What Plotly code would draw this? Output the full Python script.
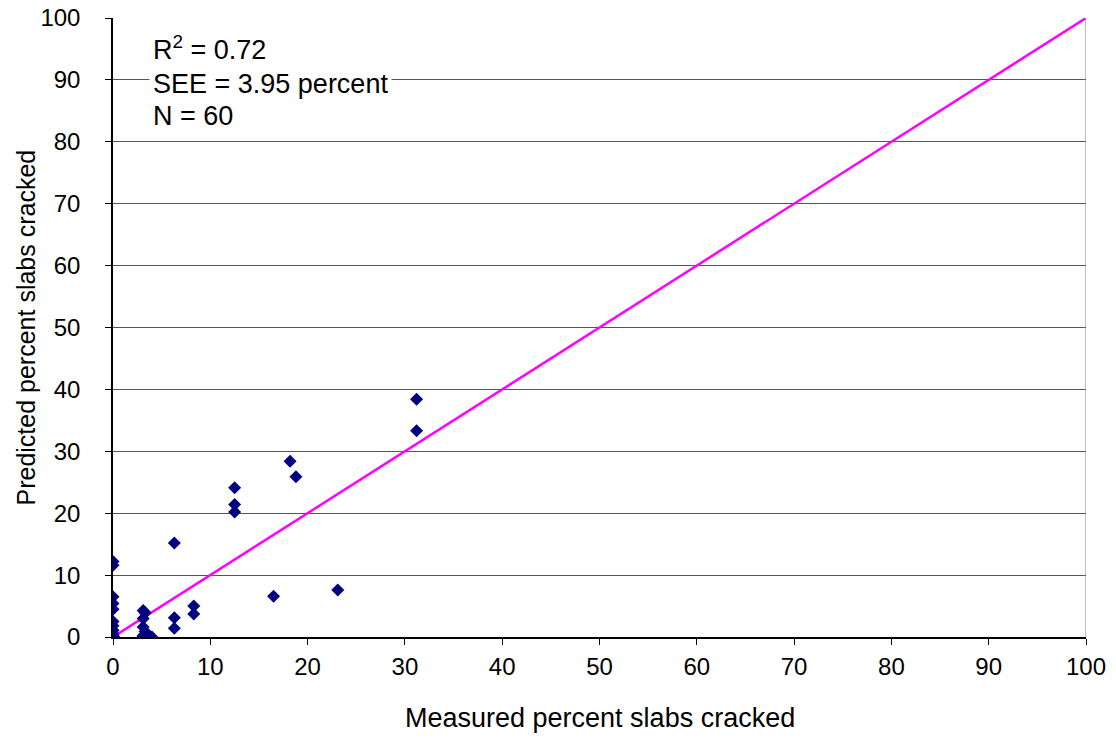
import plotly.graph_objects as go

# Measured vs. predicted percent slabs cracked
measured = [0, 0, 0, 0, 0, 0, 0, 0, 0, 0, 0, 0,
            0, 0, 0, 0, 0, 0, 0, 0, 0, 0, 0, 0, 0, 0,
            3.1, 3.3, 3.1, 3.1, 3.3, 3.3, 3.1, 3.1, 4.0,
            6.3, 6.3, 6.3, 8.3, 8.3,
            12.5, 12.5, 12.5, 16.5, 18.2, 18.8, 23.1,
            31.2, 31.2,
            0, 0, 0, 0, 0, 3.1, 3.1, 0, 0, 0, 0]
predicted = [12.2, 11.6, 6.5, 5.4, 4.5, 2.5, 1.8, 1.1, 0.5, 0.2, 0, 0,
             0, 0, 0, 0, 0, 0, 0, 0, 0, 0, 0, 0, 0, 0,
             4.3, 3.9, 3.0, 1.6, 0.9, 0.5, 0.2, 0, 0,
             15.2, 3.1, 1.4, 5.0, 3.7,
             24.1, 21.4, 20.2, 6.6, 28.4, 25.9, 7.6,
             38.4, 33.3,
             0, 0, 0, 0, 0, 0, 0, 0, 0, 0, 0]

# Line of equality
equality_x = [0, 100]
equality_y = [0, 100]

ticks = list(range(0, 101, 10))
font_family = "Liberation Sans, Arial, sans-serif"

fig = go.Figure()
fig.add_trace(go.Scatter(
    x=equality_x, y=equality_y, mode="lines",
    line=dict(color="#FF00FF", width=2.5),
    showlegend=False, hoverinfo="skip",
))
fig.add_trace(go.Scatter(
    x=measured, y=predicted, mode="markers",
    marker=dict(symbol="diamond", color="#000080", size=10),
    showlegend=False,
))

fig.update_layout(
    width=1116, height=740,
    margin=dict(l=113, r=30, t=18, b=103),
    paper_bgcolor="white", plot_bgcolor="white",
    font=dict(family=font_family, color="black"),
    xaxis=dict(
        range=[0, 100], tickvals=ticks, ticks="outside", ticklen=6,
        tickcolor="black", showline=True, linecolor="black", linewidth=1.5,
        showgrid=False, zeroline=False, ticklabelstandoff=1, automargin=False,
        tickfont=dict(size=24),
    ),
    yaxis=dict(
        range=[0, 100], tickvals=ticks, ticks="outside", ticklen=6,
        tickcolor="black", showline=True, linecolor="black", linewidth=1.5,
        showgrid=True, gridcolor="#555555", gridwidth=1, zeroline=False,
        ticklabelstandoff=20, automargin=False,
        tickfont=dict(size=24),
    ),
)

# axis titles
fig.add_annotation(x=0.5, y=-(718 - 637) / (637 - 18), xref="paper", yref="paper",
                   yanchor="middle", text="Measured percent slabs cracked",
                   showarrow=False, font=dict(size=27))
fig.add_annotation(x=-(113 - 25) / (1086 - 113), y=0.5, xref="paper", yref="paper",
                   xanchor="center", yanchor="middle", textangle=-90,
                   text="Predicted percent slabs cracked", showarrow=False,
                   font=dict(size=25))

# right border of plotting area
fig.add_shape(type="line", xref="x", yref="y", x0=100, x1=100, y0=0, y1=100,
              line=dict(color="#808080", width=1))

stats = [("R<sup>2</sup> = 0.72", 95.2), ("SEE = 3.95 percent", 89.3), ("N = 60", 84.2)]
for txt, yv in stats:
    fig.add_annotation(x=3.7, y=yv, xref="x", yref="y", text=txt,
                       showarrow=False, xanchor="left", yanchor="middle",
                       font=dict(size=27, family=font_family),
                       bgcolor="white", borderpad=3)

fig.write_html("out.html")
